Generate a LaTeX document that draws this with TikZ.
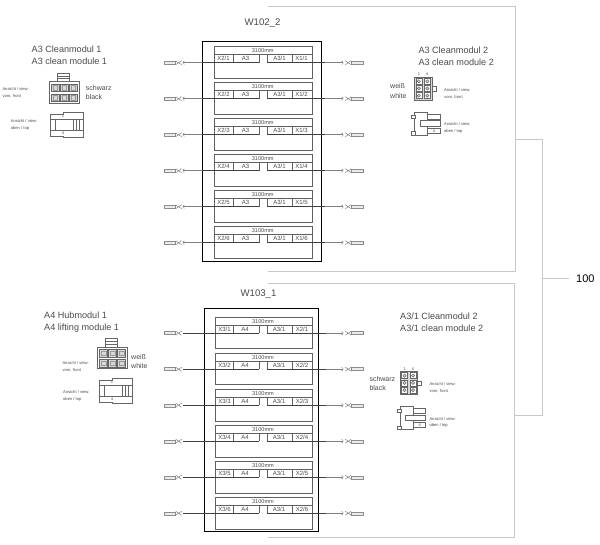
\documentclass[tikz,border=0pt]{standalone}
\usepackage{fontspec}
\setmainfont{Liberation Sans}
\definecolor{txt}{HTML}{4A4A4A}
\definecolor{brk}{HTML}{C8C8C8}
\definecolor{box}{HTML}{606060}
\definecolor{cellfill}{HTML}{D8D8D8}
\tikzset{
  every node/.style={text=txt,inner sep=0pt},
  bracketline/.style={draw=brk,line width=0.8pt},
  bigframe/.style={draw=black,line width=1.1pt},
  rowbox/.style={draw=box,line width=0.7pt,rectangle,anchor=north west,minimum width=97.5pt,minimum height=32pt},
  cellL/.style={font=\fontsize{6}{7}\selectfont,anchor=center,text=txt},
  wiredark/.style={draw=black!75,line width=0.6pt},
  wirelight/.style={draw=black!50,line width=0.5pt},
  cellline/.style={draw=box,line width=0.7pt},
  plugbody/.style={draw=black!45,fill=black!8,line width=0.4pt,rectangle,minimum width=11.5pt,minimum height=3pt},
  jaw/.style={draw=black!55,line width=0.4pt},
  title/.style={font=\fontsize{9.1}{11}\selectfont,anchor=west},
  small/.style={font=\fontsize{7}{8}\selectfont,anchor=west},
  tiny/.style={font=\fontsize{4.1}{5}\selectfont,anchor=west},
  pinno/.style={font=\fontsize{4}{5}\selectfont,anchor=center},
  draft/.style={draw=black!60,line width=0.5pt},
  sixfront/.pic={
    \draw[draft] (7.7,0) rectangle (20,8.7);
    \draw[draft] (7.7,3) -- (20,3) (7.7,5.5) -- (20,5.5);
    \draw[draft] (0,8.7) rectangle (29.5,30);
    \foreach \cx in {2,11,20} \foreach \cy in {11,21}
      {\draw[draft,fill=cellfill] (\cx,\cy) rectangle ++(7.5,7.5);
       \draw[draw=black!40,line width=0.4pt] (\cx+1.5,\cy+1.5) rectangle ++(4.5,4.5);}
  },
  sixtop/.pic={
    \draw[draft,fill=white] (0,2) -- (13,2) -- (13,0) -- (33,0) -- (33,25) -- (13,25) -- (13,24) -- (0,24) -- cycle;
    \draw[draft,fill=white] (5,7) rectangle (33,18);
    \draw[draft] (0,7) -- (5,7) (0,18) -- (5,18);
    \draw[draft] (23,7) -- (23,18) (26,7) -- (26,18) (29,7) -- (29,18);
    \node[pinno] at (13,4.5) {1};
    \node[pinno] at (13,21.5) {4};
  },
  twofront/.pic={
    \draw[draft,fill=cellfill] (0,0) rectangle (17.5,22.7);
    \draw[draft,fill=white] (17.5,9.3) rectangle (21.5,13.7);
    \foreach \cx in {1.5,10} \foreach \cy in {1,8.2,15.4}
      {\draw[draft,fill=white] (\cx,\cy) rectangle ++(6,6);
       \draw[draft,fill=cellfill] (\cx+3,\cy+3) circle (1.6);}
    \node[pinno] at (4.7,-3) {1};
    \node[pinno] at (12.7,-3) {4};
  },
  twotop/.pic={
    \draw[draft,fill=white] (3.3,0.3) rectangle (16.7,23);
    \draw[draft,fill=white] (16.7,2) rectangle (29,7.3);
    \draw[draft,fill=white] (9,8.7) rectangle (29,14);
    \draw[draft,fill=white] (16.7,16.3) rectangle (29,21.3);
    \draw[draft,fill=white] (0.7,3) rectangle (4.7,6.3);
    \draw[draft,fill=white] (0.7,19.7) rectangle (4.7,23);
    \draw[draft,line width=0.6pt] (3.3,6.3) -- (3.3,19.7);
    \node[pinno] at (23,18.8) {4};
  }
}
\begin{document}
\begin{tikzpicture}[x=1pt,y=-1pt]
\useasboundingbox (0,0) rectangle (600,545);

% brackets
\coordinate (ta) at (268,6.5);
\coordinate (tb) at (515,6.5);
\coordinate (tc) at (515,271);
\coordinate (td) at (268,271);
\coordinate (ba) at (268,283);
\coordinate (bb) at (514,283);
\coordinate (bc) at (514,537);
\coordinate (bd) at (268,537);
\coordinate (tm) at (515,139);
\coordinate (bm) at (514,415);
\coordinate (jt) at (542,139);
\coordinate (jb) at (542,415);
\coordinate (jm) at (542,278);
\coordinate (je) at (569,278);
\node[font=\fontsize{11}{13}\selectfont,text=black,anchor=west] (hundred) at (576,278.5) {100};
\draw[bracketline] (ta) -- (tb) -- (tc) -- (td);
\draw[bracketline] (ba) -- (bb) -- (bc) -- (bd);
\draw[bracketline] (tm) -- (jt) -- (jb) -- (bm);
\draw[bracketline] (jm) -- (je);

% frames
\node[bigframe,rectangle,anchor=north west,minimum width=119.5pt,minimum height=220.5pt] (frameA) at (201.5,40.7) {};
\node[bigframe,rectangle,anchor=north west,minimum width=114.5pt,minimum height=223pt] (frameB) at (203.5,308) {};
\node[font=\fontsize{9.6}{11}\selectfont,anchor=center] (nameA) at (262.5,23) {W102\_2};
\node[font=\fontsize{9.6}{11}\selectfont,anchor=center] (nameB) at (258.5,294) {W103\_1};

% upper block
\foreach \r in {1,...,6}{
  \pgfmathsetmacro{\yt}{46+36*(\r-1)}
  \pgfmathsetmacro{\yl}{\yt+8.3}
  \pgfmathsetmacro{\yw}{\yt+16.7}
  \pgfmathsetmacro{\ym}{\yt+12.6}
  \node[rowbox] (boxA\r) at (214,\yt) {};
  \node[font=\fontsize{5.6}{7}\selectfont] (lenA\r) at (262.7,\yt+4.2) {3100mm};
  \node[cellL] (xlA\r) at (223.5,\ym) {X2/\r};
  \node[cellL] (mlA\r) at (245.5,\ym) {A3};
  \node[cellL] (mrA\r) at (279.5,\ym) {A3/1};
  \node[cellL] (xrA\r) at (301.5,\ym) {X1/\r};
  \coordinate (c1A\r) at (233,\yl); \coordinate (c2A\r) at (233,\yw);
  \coordinate (c3A\r) at (259,\yl); \coordinate (c4A\r) at (259,\yw);
  \coordinate (c5A\r) at (267,\yl); \coordinate (c6A\r) at (267,\yw);
  \coordinate (c7A\r) at (292,\yl); \coordinate (c8A\r) at (292,\yw);
  \draw[cellline] (214,\yl) -- (311.5,\yl);
  \draw[cellline] (c1A\r) -- (c2A\r) (c3A\r) -- (c4A\r) (c5A\r) -- (c6A\r) (c7A\r) -- (c8A\r);
  \node[plugbody] (plA\r) at (169.7,\yw) {};
  \node[plugbody] (prA\r) at (357.2,\yw) {};
  \coordinate (slA\r) at (183,\yw);
  \coordinate (fxA\r) at (201.5,\yw);
  \coordinate (srA\r) at (343,\yw);
  \coordinate (gxA\r) at (325,\yw);
  \draw[jaw] (plA\r.east) ++(0,-2) -- ++(6,4) (plA\r.east) ++(0,2) -- ++(6,-4);
  \draw[jaw] (prA\r.west) ++(0,-2) -- ++(-6,4) (prA\r.west) ++(0,2) -- ++(-6,-4);
  \draw[jaw] (slA\r) ++(1.5,-1.6) -- ++(-1.5,0.6) -- ++(0,2) -- ++(1.5,0.6);
  \draw[jaw] (srA\r) ++(-1.5,-1.6) -- ++(1.5,0.6) -- ++(0,2) -- ++(-1.5,0.6);
  \draw[wirelight] (slA\r) -- (fxA\r);
  \draw[wiredark] (fxA\r) -- (c4A\r);
  \draw[wiredark] (c6A\r) -- (gxA\r);
  \draw[wirelight] (gxA\r) -- (srA\r);
}

% lower block
\foreach \r in {1,...,6}{
  \pgfmathsetmacro{\yt}{317+36*(\r-1)}
  \pgfmathsetmacro{\yl}{\yt+8.3}
  \pgfmathsetmacro{\yw}{\yt+16.2}
  \pgfmathsetmacro{\ym}{\yt+12.4}
  \node[rowbox,minimum height=31.5pt] (boxB\r) at (214.5,\yt) {};
  \node[font=\fontsize{5.6}{7}\selectfont] (lenB\r) at (263,\yt+4.2) {3100mm};
  \node[cellL] (xlB\r) at (224.5,\ym) {X3/\r};
  \node[cellL] (mlB\r) at (245,\ym) {A4};
  \node[cellL] (mrB\r) at (279,\ym) {A3/1};
  \node[cellL] (xrB\r) at (302,\ym) {X2/\r};
  \coordinate (c1B\r) at (233.5,\yl); \coordinate (c2B\r) at (233.5,\yw);
  \coordinate (c3B\r) at (259,\yl); \coordinate (c4B\r) at (259,\yw);
  \coordinate (c5B\r) at (267,\yl); \coordinate (c6B\r) at (267,\yw);
  \coordinate (c7B\r) at (292,\yl); \coordinate (c8B\r) at (292,\yw);
  \draw[cellline] (214.5,\yl) -- (312,\yl);
  \draw[cellline] (c1B\r) -- (c2B\r) (c3B\r) -- (c4B\r) (c5B\r) -- (c6B\r) (c7B\r) -- (c8B\r);
  \node[plugbody] (plB\r) at (169.7,\yw) {};
  \node[plugbody] (prB\r) at (357.2,\yw) {};
  \coordinate (slB\r) at (183,\yw);
  \coordinate (srB\r) at (343,\yw);
  \coordinate (gxB\r) at (326,\yw);
  \draw[jaw] (plB\r.east) ++(0,-2) -- ++(6,4) (plB\r.east) ++(0,2) -- ++(6,-4);
  \draw[jaw] (prB\r.west) ++(0,-2) -- ++(-6,4) (prB\r.west) ++(0,2) -- ++(-6,-4);
  \draw[jaw] (srB\r) ++(-1.5,-1.6) -- ++(1.5,0.6) -- ++(0,2) -- ++(-1.5,0.6);
  \draw[wiredark] (slB\r) -- (c4B\r);
  \draw[wiredark] (c6B\r) -- (gxB\r);
  \draw[wirelight] (gxB\r) -- (srB\r);
}

% top left
\node[title] (t1a) at (31.5,49.5) {A3 Cleanmodul 1};
\node[title] (t1b) at (31.5,61.2) {A3 clean module 1};
\pic at (49.3,73) {sixfront};
\node[small] (n1a) at (85.7,88) {schwarz};
\node[small] (n1b) at (85.7,97.3) {black};
\node[tiny] (v1a) at (2.3,89) {Ansicht / view:};
\node[tiny] (v1b) at (2.3,96.7) {vorn, front};
\pic at (50,112) {sixtop};
\node[tiny] (v1c) at (10.7,121) {Ansicht / view:};
\node[tiny] (v1d) at (10.7,128) {oben / top};

% top right
\node[title] (t2a) at (418.3,50) {A3 Cleanmodul 2};
\node[title] (t2b) at (418.3,62) {A3 clean module 2};
\pic at (414.3,77.3) {twofront};
\node[small] (n2a) at (390,86) {weiß};
\node[small] (n2b) at (390,95.7) {white};
\node[tiny] (v2a) at (444,90) {Ansicht / view:};
\node[tiny] (v2b) at (444,97) {vorn, front};
\pic at (411,112) {twotop};
\node[tiny] (v2c) at (444,124) {Ansicht / view:};
\node[tiny] (v2d) at (444,131.7) {oben / top};

% bottom left
\node[title] (t3a) at (44,315.7) {A4 Hubmodul 1};
\node[title] (t3b) at (44,327.7) {A4 lifting module 1};
\pic at (97.7,338.5) {sixfront};
\node[small] (n3a) at (131,356.7) {weiß};
\node[small] (n3b) at (131,366) {white};
\node[tiny] (v3a) at (62.3,363) {Ansicht / view:};
\node[tiny] (v3b) at (62.3,370.7) {vorn, front};
\pic at (99,378) {sixtop};
\node[tiny] (v3c) at (63,392) {Ansicht / view:};
\node[tiny] (v3d) at (63,399) {oben / top};

% bottom right
\node[title] (t4a) at (400,316) {A3/1 Cleanmodul 2};
\node[title] (t4b) at (400,328.3) {A3/1 clean module 2};
\pic at (400,371.7) {twofront};
\node[small] (n4a) at (369.3,379.3) {schwarz};
\node[small] (n4b) at (369.3,388.3) {black};
\node[tiny] (v4a) at (429.3,384) {Ansicht / view:};
\node[tiny] (v4b) at (429.3,391) {vorn, front};
\pic at (396.7,406.3) {twotop};
\node[tiny] (v4c) at (429.3,419) {Ansicht / view:};
\node[tiny] (v4d) at (429.3,425.7) {oben / top};
\end{tikzpicture}
\end{document}
